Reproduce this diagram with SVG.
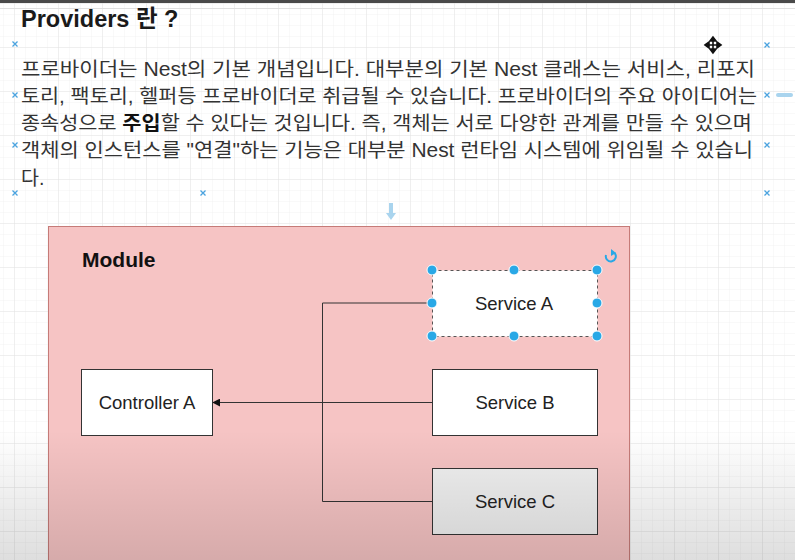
<svg xmlns="http://www.w3.org/2000/svg" width="795" height="560" viewBox="0 0 795 560">
<defs>
<pattern id="minor" width="11" height="11" patternUnits="userSpaceOnUse" x="4" y="4">
<path d="M11 0V11H0" fill="none" stroke="#f2f2f2" stroke-width="1"/>
</pattern>
<pattern id="major" width="44" height="44" patternUnits="userSpaceOnUse" x="15" y="4">
<path d="M44 0V44H0" fill="none" stroke="#e4e4e4" stroke-width="1"/>
</pattern>
<linearGradient id="shade" x1="0" y1="0" x2="0" y2="1">
<stop offset="0" stop-color="#000" stop-opacity="0"/>
<stop offset="1" stop-color="#000" stop-opacity="0.13"/>
</linearGradient>
<marker id="arr" viewBox="0 0 10 10" refX="9" refY="5" markerWidth="8" markerHeight="8" orient="auto" markerUnits="userSpaceOnUse">
<path d="M0 0L10 5L0 10z" fill="#111"/>
</marker>
<g id="xm"><path d="M-2.5 -2.5L2.5 2.5M2.5 -2.5L-2.5 2.5" stroke="#4aa3df" stroke-width="1.3"/></g>
</defs>
<style>
.txt{font-family:"Liberation Sans","Noto Sans CJK KR",sans-serif;fill:#333}
.node{fill:#fff;stroke:#333;stroke-width:1}
.lbl{font-family:"Liberation Sans",Arial,sans-serif;font-size:18.5px;fill:#222;text-anchor:middle}
.edge{fill:none;stroke:#333;stroke-width:1}
.h{fill:#29a8e6;stroke:#fff;stroke-width:1}
</style>
<rect width="795" height="560" fill="#fff"/>
<rect width="795" height="560" fill="url(#minor)"/>
<rect width="795" height="560" fill="url(#major)"/>
<rect x="0" y="0" width="795" height="3" fill="#4a4a4a"/>
<line x1="0" y1="8.5" x2="795" y2="8.5" stroke="#e0e0e0"/>

<g id="title">
<text class="txt" x="21" y="27" font-size="23.5" font-weight="bold" style="fill:#1a1a1a">Providers 란 ?</text>
</g>
<g id="paragraph" class="txt" font-size="19.5">
<text class="txt" x="21" y="76" textLength="734" lengthAdjust="spacingAndGlyphs">프로바이더는 Nest의 기본 개념입니다. 대부분의 기본 Nest 클래스는 서비스, 리포지</text>
<text class="txt" x="21" y="103" textLength="736" lengthAdjust="spacingAndGlyphs">토리, 팩토리, 헬퍼등 프로바이더로 취급될 수 있습니다. 프로바이더의 주요 아이디어는</text>
<text class="txt" x="21" y="130" textLength="731" lengthAdjust="spacingAndGlyphs">종속성으로 <tspan font-weight="bold" style="fill:#111">주입</tspan>할 수 있다는 것입니다. 즉, 객체는 서로 다양한 관계를 만들 수 있으며</text>
<text class="txt" x="21" y="157" textLength="732" lengthAdjust="spacingAndGlyphs">객체의 인스턴스를 "연결"하는 기능은 대부분 Nest 런타임 시스템에 위임될 수 있습니</text>
<text class="txt" x="21" y="185">다.</text>
</g>

<g id="guides">
<use href="#xm" x="15" y="44"/>
<use href="#xm" x="15" y="95"/>
<use href="#xm" x="15" y="145"/>
<use href="#xm" x="15" y="193"/>
<use href="#xm" x="203" y="193"/>
<use href="#xm" x="767" y="45"/>
<use href="#xm" x="767" y="95"/>
<use href="#xm" x="767" y="145"/>
<use href="#xm" x="767" y="193"/>
<path d="M778 95H791" stroke="#a9d4ee" stroke-width="4" stroke-linecap="round"/>
<path d="M391 203V214" stroke="#a9d4ee" stroke-width="4"/>
<path d="M386 213L391 220L396 213z" fill="#a9d4ee"/>
<path d="M707 45H719M713 39V51M713 37L710 41H716zM713 53L710 49H716zM705 45L709 42V48zM721 45L717 42V48z" stroke="#111" stroke-width="1.6" fill="#111"/>
</g>

<g id="module">
<rect x="48.5" y="226.5" width="581" height="345" fill="#f6c4c4" stroke="#c67b78" stroke-width="1"/>
<text x="82" y="267" font-family="Liberation Sans,Arial,sans-serif" font-size="21" font-weight="bold" fill="#111">Module</text>
</g>

<g id="connectors">
<path class="edge" d="M432 303H322.5V501.5H432"/>
<path class="edge" d="M432 402.5H213" marker-end="url(#arr)"/>
</g>

<g id="controller-a">
<rect class="node" x="81.5" y="369.5" width="131" height="66"/>
<text class="lbl" x="147" y="409">Controller A</text>
</g>
<g id="service-b">
<rect class="node" x="432.5" y="369.5" width="165" height="66"/>
<text class="lbl" x="515" y="409">Service B</text>
</g>
<g id="service-c">
<rect class="node" x="432.5" y="468.5" width="165" height="66" style="fill:#f0f0f0"/>
<text class="lbl" x="515" y="508">Service C</text>
</g>
<g id="service-a">
<rect x="432.5" y="270.5" width="165" height="66" fill="#fff" stroke="#555" stroke-dasharray="3 3"/>
<text class="lbl" x="514" y="310">Service A</text>
<circle class="h" cx="432" cy="270" r="5"/>
<circle class="h" cx="514" cy="270" r="5"/>
<circle class="h" cx="597" cy="270" r="5"/>
<circle class="h" cx="432" cy="303" r="5"/>
<circle class="h" cx="597" cy="303" r="5"/>
<circle class="h" cx="432" cy="336" r="5"/>
<circle class="h" cx="514" cy="336" r="5"/>
<circle class="h" cx="597" cy="336" r="5"/>
<path d="M614.5 253A5 5 0 1 1 606 255" fill="none" stroke="#29a8e6" stroke-width="2"/>
<path d="M611 249L616 253L611 256z" fill="#29a8e6"/>
</g>

<rect x="0" y="430" width="795" height="130" fill="url(#shade)"/>
</svg>
